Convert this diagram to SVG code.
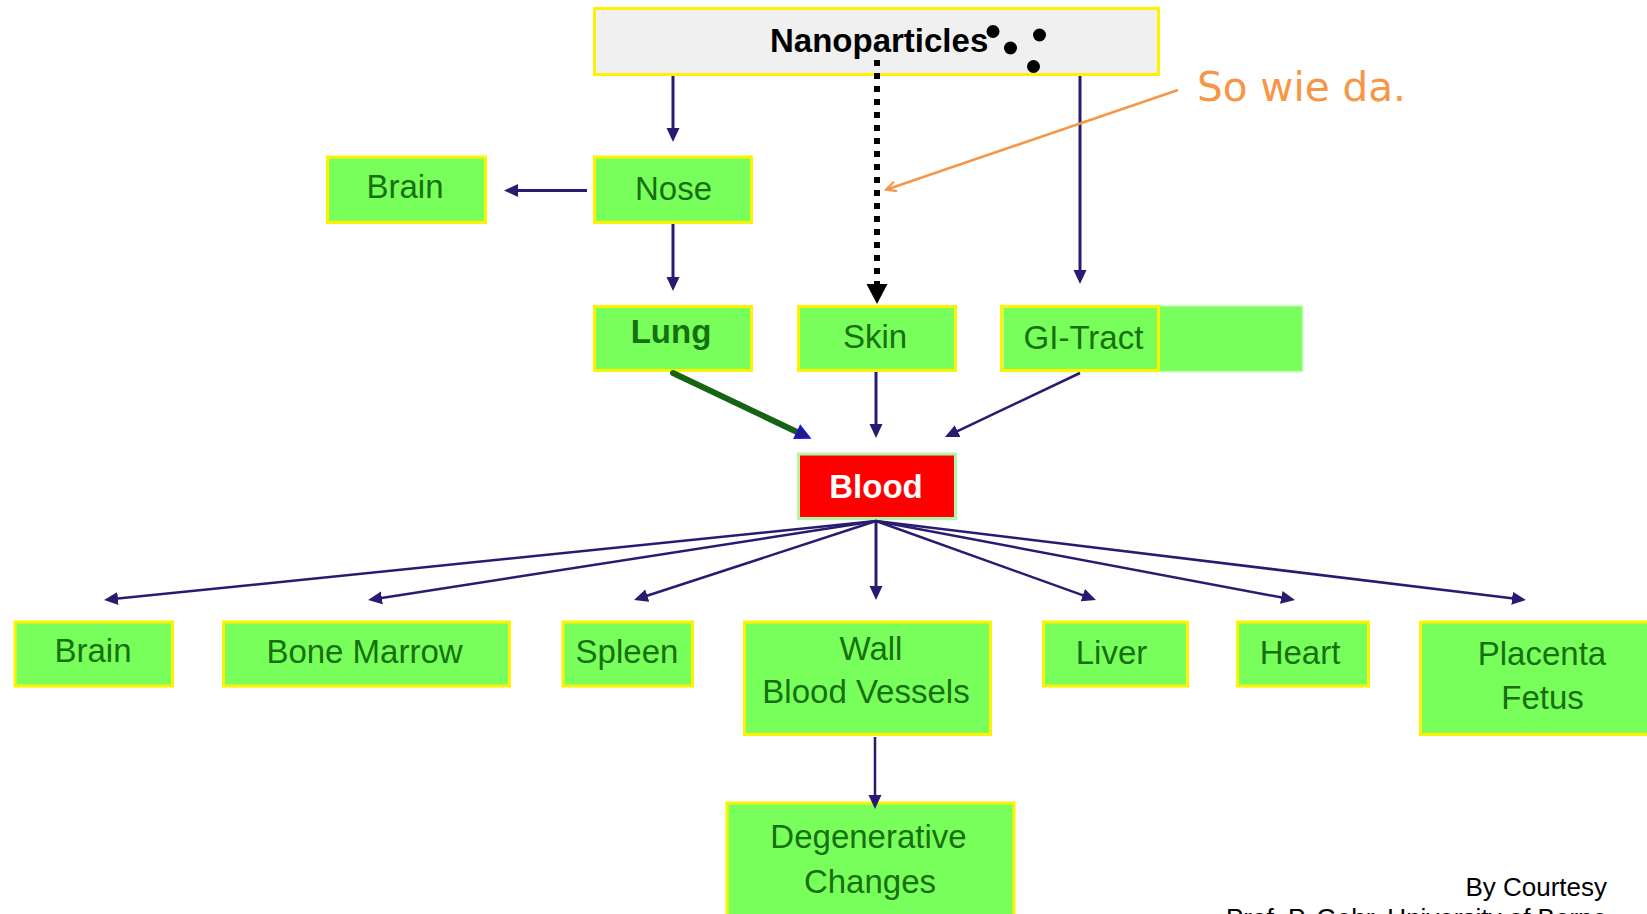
<svg xmlns="http://www.w3.org/2000/svg" width="1647" height="914" viewBox="0 0 1647 914">
<defs>
<style>
.box{fill:#79FF5B;stroke:#FFF200;stroke-width:3}
.lbl{font-family:"Liberation Sans",Arial,sans-serif;font-size:33px;fill:#17700F;text-anchor:middle}
.con{stroke:#2A1B72;stroke-width:3;fill:none}
.fan{stroke:#2A1B72;stroke-width:2.5;fill:none}
</style>
<marker id="ah" markerUnits="userSpaceOnUse" markerWidth="14" markerHeight="14" viewBox="0 0 14 14" refX="10" refY="7" orient="auto">
<path d="M0,0.5 L14,7 L0,13.5 z" fill="#2A1B72"/>
</marker>
<marker id="oh" markerUnits="userSpaceOnUse" markerWidth="14" markerHeight="14" viewBox="0 0 14 14" refX="12" refY="7" orient="auto">
<path d="M2,2 L12,7 L2,12" fill="none" stroke="#F79646" stroke-width="2.2"/>
</marker>
</defs>
<rect width="1647" height="914" fill="#FFFFFF"/>

<g id="nanoparticles">
<rect x="594.5" y="8.5" width="564" height="66" fill="#F0F0F0" stroke="#FFF200" stroke-width="3"/>
<text x="770" y="52" font-family="'Liberation Sans',Arial,sans-serif" font-size="33" font-weight="bold" fill="#000">Nanoparticles</text>
<circle cx="993" cy="31.5" r="6.5" fill="#000"/>
<circle cx="1010.5" cy="48" r="6.5" fill="#000"/>
<circle cx="1039.5" cy="35" r="6.5" fill="#000"/>
<circle cx="1033.5" cy="66.5" r="6.5" fill="#000"/>
</g>

<g id="note">
<text x="1197" y="101" font-family="'DejaVu Sans',Verdana,sans-serif" font-size="40.5" fill="#F79646">So wie da.</text>
</g>

<g id="brain-top">
<rect class="box" x="327.5" y="157" width="158" height="65.5"/>
<text class="lbl" x="405" y="198">Brain</text>
</g>
<g id="nose">
<rect class="box" x="594.5" y="157" width="157" height="65.5"/>
<text class="lbl" x="673.5" y="200">Nose</text>
</g>
<g id="lung">
<rect class="box" x="594.5" y="306.5" width="157" height="64"/>
<text class="lbl" x="671" y="343" font-weight="bold">Lung</text>
</g>
<g id="skin">
<rect class="box" x="798.5" y="306.5" width="157" height="64"/>
<text class="lbl" x="875" y="348">Skin</text>
</g>
<g id="gi-tract">
<rect x="1003" y="306" width="299.5" height="65.5" fill="#79FF5B" stroke="#B6FFAE" stroke-width="1.5"/>
<rect x="1001.5" y="306.5" width="157" height="64" fill="none" stroke="#FFF200" stroke-width="3"/>
<text class="lbl" x="1083.5" y="349">GI-Tract</text>
</g>
<g id="blood">
<rect x="798.5" y="454" width="157" height="64.5" fill="#FF0000" stroke="#B4F5A8" stroke-width="3"/>
<text x="876" y="498" font-family="'Liberation Sans',Arial,sans-serif" font-size="33" font-weight="bold" fill="#FFFFFF" text-anchor="middle">Blood</text>
</g>
<g id="brain-bottom">
<rect class="box" x="15" y="622" width="157.5" height="64"/>
<text class="lbl" x="93" y="662">Brain</text>
</g>
<g id="bone-marrow">
<rect class="box" x="223.5" y="622" width="286" height="64"/>
<text class="lbl" x="364.5" y="663">Bone Marrow</text>
</g>
<g id="spleen">
<rect class="box" x="563" y="622" width="129.5" height="64"/>
<text class="lbl" x="627" y="663">Spleen</text>
</g>
<g id="wall-blood-vessels">
<rect class="box" x="744.5" y="622" width="246" height="112.5"/>
<text class="lbl" x="871" y="660">Wall</text>
<text class="lbl" x="866" y="703">Blood Vessels</text>
</g>
<g id="liver">
<rect class="box" x="1043.5" y="622" width="144" height="64"/>
<text class="lbl" x="1111.5" y="664">Liver</text>
</g>
<g id="heart">
<rect class="box" x="1237.5" y="622" width="131" height="64"/>
<text class="lbl" x="1300" y="664">Heart</text>
</g>
<g id="placenta-fetus">
<rect class="box" x="1420.5" y="622" width="240" height="112.5"/>
<text class="lbl" x="1542" y="665">Placenta</text>
<text class="lbl" x="1542.5" y="709">Fetus</text>
</g>
<g id="degenerative-changes">
<rect class="box" x="727" y="803" width="287" height="130"/>
<text class="lbl" x="868.5" y="848">Degenerative</text>
<text class="lbl" x="870" y="893">Changes</text>
</g>

<g id="credit">
<text x="1607" y="896" font-family="'Liberation Sans',Arial,sans-serif" font-size="26" fill="#000" text-anchor="end">By Courtesy</text>
<text x="1607" y="927" font-family="'Liberation Sans',Arial,sans-serif" font-size="26" fill="#000" text-anchor="end">Prof. P. Gehr, University of Berne</text>
</g>

<g id="connectors">
<line class="con" x1="673" y1="76" x2="673" y2="138" marker-end="url(#ah)"/>
<line class="con" x1="1080" y1="76" x2="1080" y2="280" marker-end="url(#ah)"/>
<line x1="877" y1="60" x2="877" y2="286" stroke="#000" stroke-width="6" stroke-dasharray="6 7"/>
<polygon points="866.5,284 887.5,284 877,304" fill="#000"/>
<line class="con" x1="587" y1="190.5" x2="508" y2="190.5" marker-end="url(#ah)"/>
<line class="con" x1="673" y1="224" x2="673" y2="287" marker-end="url(#ah)"/>
<line x1="673" y1="373" x2="797" y2="432" stroke="#146414" stroke-width="6" stroke-linecap="round"/>
<polygon points="810,438 800.3,425.7 794.3,438.3" fill="#2A1B72" stroke="#1414FF" stroke-width="1.5"/>
<line class="con" x1="876" y1="372" x2="876" y2="434" marker-end="url(#ah)"/>
<line class="fan" x1="1080" y1="373" x2="948.6" y2="435.3" marker-end="url(#ah)"/>
<line class="fan" x1="876" y1="521" x2="108" y2="599.6" marker-end="url(#ah)"/>
<line class="fan" x1="876" y1="521" x2="372" y2="599.4" marker-end="url(#ah)"/>
<line class="fan" x1="876" y1="521" x2="637.8" y2="598.8" marker-end="url(#ah)"/>
<line class="con" x1="876" y1="521" x2="876" y2="596" marker-end="url(#ah)"/>
<line class="fan" x1="876" y1="521" x2="1092.2" y2="598.6" marker-end="url(#ah)"/>
<line class="fan" x1="876" y1="521" x2="1291.1" y2="599.3" marker-end="url(#ah)"/>
<line class="fan" x1="876" y1="521" x2="1522" y2="599.5" marker-end="url(#ah)"/>
<line class="fan" x1="875" y1="737" x2="875" y2="805" marker-end="url(#ah)"/>
<line x1="1178" y1="90" x2="886" y2="189.7" stroke="#F79646" stroke-width="2.5" marker-end="url(#oh)"/>
</g>
</svg>
